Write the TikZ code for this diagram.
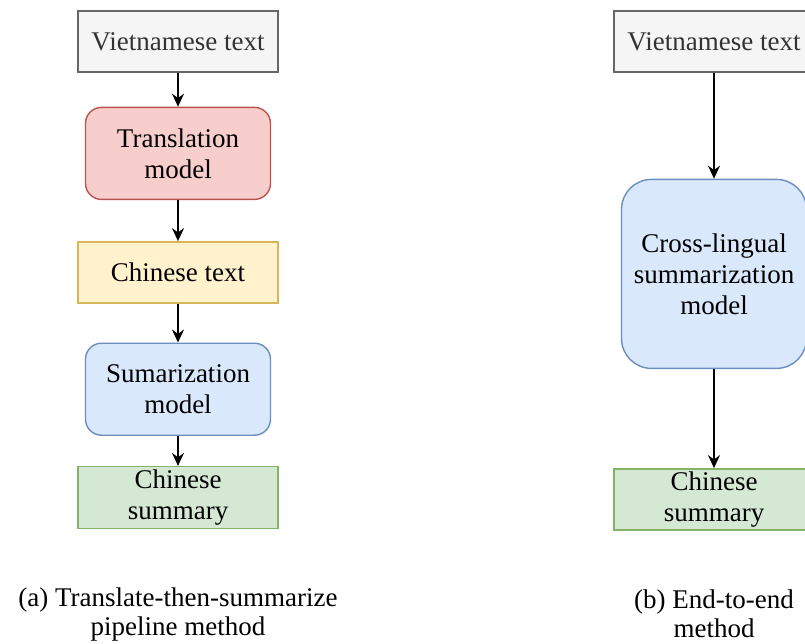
\documentclass[tikz,border=0pt]{standalone}
\usepackage{fontspec}
\setmainfont{Liberation Serif}
\usetikzlibrary{arrows.meta,positioning}
\definecolor{srcfill}{HTML}{F5F5F5}
\definecolor{srcline}{HTML}{666666}
\definecolor{srctext}{HTML}{333333}
\definecolor{transfill}{HTML}{F8CECC}
\definecolor{transline}{HTML}{B85450}
\definecolor{midfill}{HTML}{FFF2CC}
\definecolor{midline}{HTML}{D6B656}
\definecolor{sumfill}{HTML}{DAE8FC}
\definecolor{sumline}{HTML}{6C8EBF}
\definecolor{outfill}{HTML}{D5E8D4}
\definecolor{outline}{HTML}{82B366}

\begin{document}
\begin{tikzpicture}[x=0.5pt, y=-0.5pt,
    font=\fontsize{13.5pt}{15.5pt}\selectfont,
    box/.style={draw, line width=0.7pt, minimum width=100pt, minimum height=30.5pt, inner sep=1pt, align=center},
    model/.style={box, rounded corners=8pt, minimum width=92.5pt, minimum height=46pt},
    flow/.style={-{Stealth[length=6.5pt, width=6pt, inset=2.2pt]}, line width=0.9pt}]
        \useasboundingbox (0,0) rectangle (805,644);

        % (a) pipeline
        \node [box, fill=srcfill, draw=srcline, text=srctext] (viet) at (178,41.5) {Vietnamese text};
        \node [model, fill=transfill, draw=transline, below=17pt of viet] (trans) {Translation\\model};
        \node [box, fill=midfill, draw=midline, below=20.5pt of trans] (zhtext) {Chinese text};
        \node [model, fill=sumfill, draw=sumline, below=19.5pt of zhtext] (summ) {Sumarization\\model};
        \node [box, fill=outfill, draw=outline, minimum height=31pt, below=15pt of summ] (zhsum) {Chinese\\summary};

        % (b) end-to-end
        \node [box, fill=srcfill, draw=srcline, text=srctext] (viet2) at (714,41.5) {Vietnamese text};
        \node [model, fill=sumfill, draw=sumline, rounded corners=15pt, minimum height=94.5pt, below=53pt of viet2] (cross) {Cross-lingual\\summarization\\model};
        \node [box, fill=outfill, draw=outline, minimum height=30.5pt, below=49.5pt of cross] (zhsum2) {Chinese\\summary};

        % Arrows
        \draw [flow] (viet) -- (trans);
        \draw [flow] (trans) -- (zhtext);
        \draw [flow] (zhtext) -- (summ);
        \draw [flow] (summ) -- (zhsum);
        \draw [flow] (viet2) -- (cross);
        \draw [flow] (cross) -- (zhsum2);

        % Captions
        \node [align=center, font=\fontsize{13.5pt}{14.5pt}\selectfont] (capa) at (178,614) {(a) Translate-then-summarize\\pipeline method};
        \node [align=center, font=\fontsize{13.5pt}{14.5pt}\selectfont] (capb) at (714,614) {(b) End-to-end\\method};
\end{tikzpicture}
\end{document}
